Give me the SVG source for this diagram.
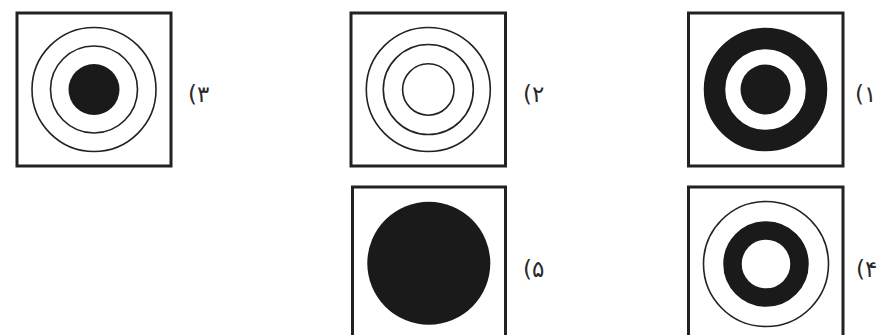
<svg xmlns="http://www.w3.org/2000/svg" width="892" height="335" viewBox="0 0 892 335">
<style>
.box{fill:#fff;stroke:#222;stroke-width:3}
.ring{fill:none;stroke:#222;stroke-width:1.6}
.solid{fill:#1a1a1a}
.lbl{font-family:"DejaVu Sans",sans-serif;font-size:23px;fill:#2a2a2a}
</style>
<rect width="892" height="335" fill="#fff"/>
<g id="opt3">
<rect class="box" x="17" y="13" width="154" height="153"/>
<circle class="ring" cx="94" cy="89.5" r="62"/>
<circle class="ring" cx="94" cy="89.5" r="43.5"/>
<circle class="solid" cx="94" cy="89.5" r="25.5"/>
<text class="lbl" x="188" y="102">(۳</text>
</g>
<g id="opt2">
<rect class="box" x="351" y="13" width="154.5" height="153"/>
<circle class="ring" cx="428.3" cy="89.5" r="62"/>
<circle class="ring" cx="428.3" cy="89.5" r="45"/>
<circle class="ring" cx="428.3" cy="89.5" r="25.7"/>
<text class="lbl" x="523" y="102">(۲</text>
</g>
<g id="opt1">
<rect class="box" x="688.5" y="13" width="154.5" height="153"/>
<circle cx="765.5" cy="89.5" r="51" fill="none" stroke="#1a1a1a" stroke-width="21.5"/>
<circle class="solid" cx="765.5" cy="89.5" r="25"/>
<text class="lbl" x="855" y="102">(۱</text>
</g>
<g id="opt5">
<rect class="box" x="352.5" y="187" width="153" height="160"/>
<circle class="solid" cx="428.8" cy="263.3" r="61.5"/>
<text class="lbl" x="523" y="277">(۵</text>
</g>
<g id="opt4">
<rect class="box" x="688.5" y="187" width="154.5" height="160"/>
<circle class="ring" cx="766" cy="264" r="62.5"/>
<circle cx="766" cy="264" r="33.5" fill="none" stroke="#1a1a1a" stroke-width="18.5"/>
<text class="lbl" x="856" y="277">(۴</text>
</g>
<g id="connectors"></g>
</svg>
